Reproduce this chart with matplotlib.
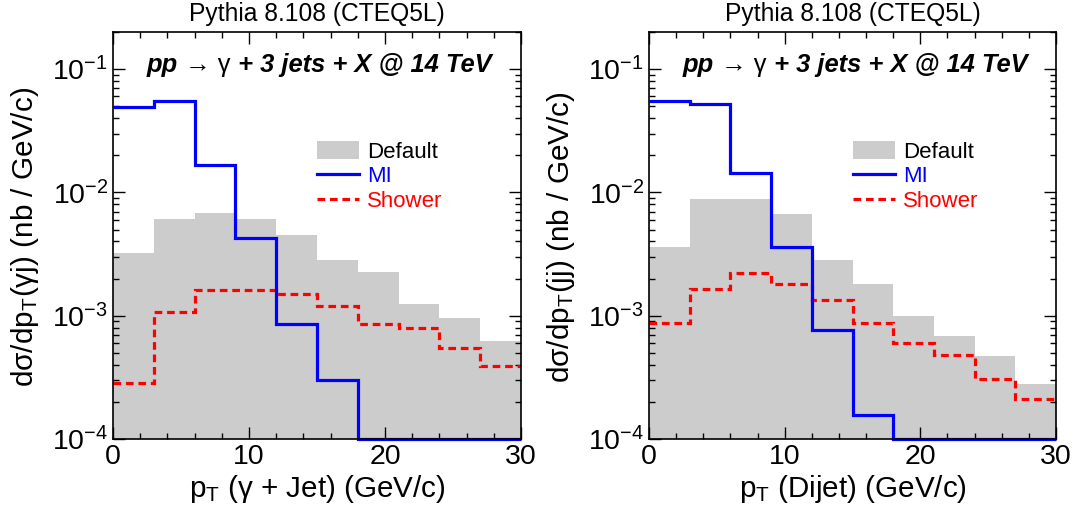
import matplotlib
matplotlib.use("Agg")
import matplotlib.pyplot as plt
import matplotlib.ticker as mticker
import numpy as np
from matplotlib.lines import Line2D
from matplotlib.patches import Patch

plt.rcParams.update({
    "font.family": ["Liberation Sans", "DejaVu Sans"],
    "mathtext.fontset": "custom",
    "mathtext.rm": "Liberation Sans",
    "mathtext.it": "Liberation Sans:italic",
    "mathtext.bf": "Liberation Sans:bold",
})

# ── Data (pT bins of 3 GeV/c, 0..30) ─────────────────────
edges = np.arange(0, 31, 3)

gj_default = [3.2e-3, 6.1e-3, 6.8e-3, 6.1e-3, 4.5e-3, 2.85e-3, 2.26e-3, 1.25e-3, 9.6e-4, 6.2e-4]
gj_mi = [0.0497, 0.0553, 0.0167, 4.3e-3, 8.6e-4, 3.0e-4, 0, 0, 0, 0]
gj_shower = [2.85e-4, 1.08e-3, 1.63e-3, 1.63e-3, 1.50e-3, 1.19e-3, 8.5e-4, 8.0e-4, 5.5e-4, 3.9e-4]

jj_default = [3.64e-3, 8.8e-3, 8.9e-3, 6.7e-3, 2.85e-3, 1.82e-3, 9.9e-4, 6.9e-4, 4.7e-4, 2.8e-4]
jj_mi = [0.0556, 0.0526, 0.0143, 3.6e-3, 7.6e-4, 1.57e-4, 0, 0, 0, 0]
jj_shower = [8.7e-4, 1.65e-3, 2.22e-3, 1.82e-3, 1.34e-3, 8.7e-4, 6.0e-4, 4.8e-4, 3.06e-4, 2.1e-4]

YMIN, YMAX = 1e-4, 0.2
GRAY, BLUE, RED = "#cccccc", "#0000ff", "#ff0000"
DASH = (0, (2.4, 1.5))

panels = [
    (gj_default, gj_mi, gj_shower,
     "dσ/dp$_{\\mathrm{T}}$(γj) (nb / GeV/c)",
     "p$_{\\mathrm{T}}$ (γ + Jet) (GeV/c)"),
    (jj_default, jj_mi, jj_shower,
     "dσ/dp$_{\\mathrm{T}}$(jj) (nb / GeV/c)",
     "p$_{\\mathrm{T}}$ (Dijet) (GeV/c)"),
]
W, H = 1078, 516
axes_px = [(113, 32, 521, 439), (649, 32, 1056, 439)]  # left, top, right, bottom


def fit_width(fig, texts, target, vertical=False):
    """Scale font sizes so the union of the texts spans `target` pixels."""
    for _ in range(2):
        fig.canvas.draw()
        r = fig.canvas.get_renderer()
        boxes = [t.get_window_extent(r) for t in texts]
        if vertical:
            span = max(b.y1 for b in boxes) - min(b.y0 for b in boxes)
        else:
            span = max(b.x1 for b in boxes) - min(b.x0 for b in boxes)
        for t in texts:
            t.set_fontsize(t.get_fontsize() * target / span)


fig = plt.figure(figsize=(W / 100, H / 100), dpi=100)
groups = []

for (l, t, r, b), (dflt, mi, shower, ylab, xlab) in zip(axes_px, panels):
    ax = fig.add_axes([l / W, 1 - b / H, (r - l) / W, (b - t) / H])
    ax.set_yscale("log")
    ax.stairs(dflt, edges, fill=True, color=GRAY, baseline=1e-6, zorder=1)
    ax.stairs(np.clip(mi, YMIN, None), edges, baseline=None, color=BLUE,
              lw=2.3, zorder=3, clip_on=False)
    ax.stairs(shower, edges, baseline=None, color=RED, lw=2.3,
              linestyle=DASH, zorder=2)
    ax.set_xlim(0, 30)
    ax.set_ylim(YMIN, YMAX)

    ax.set_xticks([0, 10, 20, 30])
    ax.set_xticklabels(["0", "10", "20", "30"])
    ax.xaxis.set_minor_locator(mticker.MultipleLocator(2))
    ax.set_yticks([1e-4, 1e-3, 1e-2, 1e-1])
    ax.set_yticklabels([r"$10^{-4}$", r"$10^{-3}$", r"$10^{-2}$", r"$10^{-1}$"])
    ax.yaxis.set_minor_locator(mticker.LogLocator(base=10, subs=np.arange(2, 10)))
    ax.yaxis.set_minor_formatter(mticker.NullFormatter())
    ax.tick_params(which="both", direction="in", top=True, right=True, width=1)
    ax.tick_params(which="major", length=8.5, labelsize=20.5)
    ax.tick_params(axis="x", which="major", pad=3.5)
    ax.tick_params(axis="y", which="major", pad=3.5)
    ax.tick_params(which="minor", length=4.3)
    for s in ax.spines.values():
        s.set_linewidth(1.2)
        s.set_zorder(5)

    hpx = b - t
    ax.set_ylabel(ylab, fontsize=20, va="center")
    ax.yaxis.set_label_coords(-88 / (r - l), (b - 237) / hpx)
    ax.set_xlabel(xlab, fontsize=20, va="center")
    ax.xaxis.set_label_coords(0.5, (b - 489) / hpx)
    ttl = ax.text(0.5, (b - 21) / hpx, "Pythia 8.108 (CTEQ5L)", transform=ax.transAxes,
                  ha="center", va="baseline", fontsize=17)

    # process label: bold italic pieces with an upright arrow and gamma
    bi = dict(fontsize=16, fontweight="bold", fontstyle="italic")
    a1 = ax.text(34 / (r - l), (b - 72) / hpx, "pp", transform=ax.transAxes,
                 ha="left", va="baseline", zorder=6, **bi)
    a2 = ax.annotate(" → γ", xy=(1, 0), xycoords=a1, ha="left", va="bottom",
                     fontsize=16, zorder=6)
    a3 = ax.annotate(" + 3 jets + X @ 14 TeV", xy=(1, 0), xycoords=a2,
                     ha="left", va="bottom", zorder=6, **bi)

    handles = [
        Patch(facecolor=GRAY, edgecolor="none"),
        Line2D([], [], color=BLUE, lw=2.3),
        Line2D([], [], color=RED, lw=2.3, linestyle=DASH),
    ]
    ax.legend(handles, ["Default", "MI", "Shower"], loc="upper left",
              bbox_to_anchor=((317 - 113) / (r - l), (b - 141) / hpx),
              frameon=False, fontsize=16, handlelength=1.9, handleheight=0.85,
              handletextpad=0.36, labelspacing=0.15, borderpad=0, borderaxespad=0,
              labelcolor=["black", BLUE, RED])

    groups.append([[ttl], [ax.xaxis.label], [ax.yaxis.label], [a1, a2, a3]])

# size the texts on the left panel, reuse the sizes on the right one
left, right = groups
fit_width(fig, left[0], 255)
fit_width(fig, left[1], 256)
fit_width(fig, left[2], 300, vertical=True)
fit_width(fig, left[3], 343)
for src, dst in zip(left, right):
    for a, b in zip(src, dst):
        b.set_fontsize(a.get_fontsize())

fig.savefig("out.png", dpi=100)
